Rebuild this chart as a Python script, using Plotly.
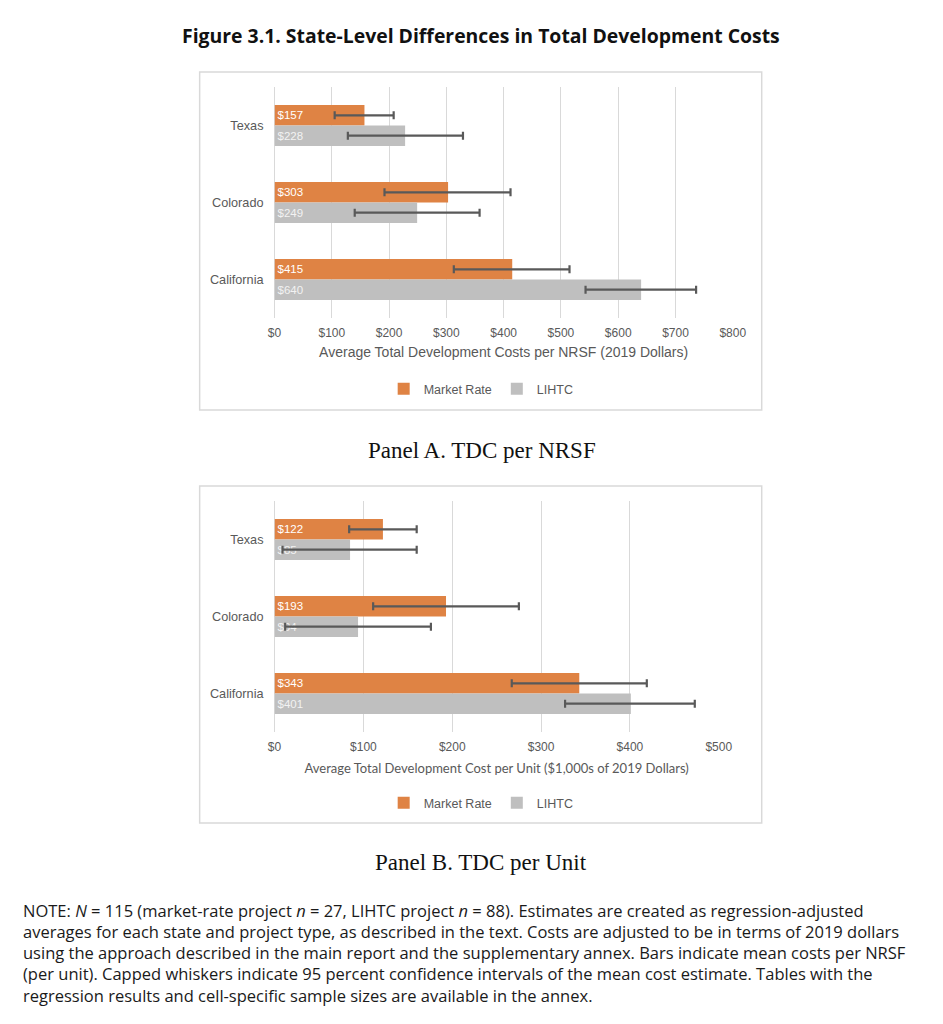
import plotly.graph_objects as go

OFF = 8  # default page body margin
FW, FH = 927, 1008
# empirical horizontal correction measured from earlier renders
SX, BX = 0.979, 6.2

states = ["Texas", "Colorado", "California"]

# Panel A: TDC per NRSF (2019 dollars)
a_market = [157, 303, 415]
a_market_lo = [105, 192, 313]
a_market_hi = [208, 412, 515]
a_lihtc = [228, 249, 640]
a_lihtc_lo = [128, 140, 543]
a_lihtc_hi = [329, 358, 736]
a_ticks = [0, 100, 200, 300, 400, 500, 600, 700, 800]
a_ticklabels = ["$0", "$100", "$200", "$300", "$400", "$500", "$600", "$700", "$800"]

# Panel B: TDC per unit ($1,000s of 2019 dollars)
b_market = [122, 193, 343]
b_market_lo = [84, 111, 267]
b_market_hi = [160, 275, 419]
b_lihtc = [85, 94, 401]
b_lihtc_lo = [9, 12, 327]
b_lihtc_hi = [160, 176, 473]
b_ticks = [0, 100, 200, 300, 400, 500]
b_ticklabels = ["$0", "$100", "$200", "$300", "$400", "$500"]

ORANGE = "#DF8344"
GRAY = "#BFBFBF"
GRID = "#D9D9D9"
TXT = "#595959"
ERR = "#595959"
ARIAL = "Liberation Sans, Arial, sans-serif"


def px(x):
    xp = (x - BX) / SX
    return (xp - OFF) / FW


def py(y):
    return 1 - (y - OFF) / FH


def err(vals, lo, hi):
    return dict(type="data", symmetric=False,
                array=[h - v for v, h in zip(vals, hi)],
                arrayminus=[v - l for v, l in zip(vals, lo)],
                color=ERR, thickness=2.2, width=4)


fig = go.Figure()

panels = [
    ("x", "y", "legend", a_market, a_market_lo, a_market_hi, a_lihtc, a_lihtc_lo, a_lihtc_hi),
    ("x2", "y2", "legend2", b_market, b_market_lo, b_market_hi, b_lihtc, b_lihtc_lo, b_lihtc_hi),
]
for xa, ya, lg, mv, mlo, mhi, lv, llo, lhi in panels:
    fig.add_trace(go.Bar(
        y=states, x=mv, orientation="h", name="Market Rate",
        marker=dict(color=ORANGE, line=dict(width=0)),
        text=["$%d" % v for v in mv], textposition="inside",
        insidetextanchor="start",
        textfont=dict(family=ARIAL, size=11.5, color="white"),
        error_x=err(mv, mlo, mhi), xaxis=xa, yaxis=ya, legend=lg,
        cliponaxis=False,
    ))
    fig.add_trace(go.Bar(
        y=states, x=lv, orientation="h", name="LIHTC",
        marker=dict(color=GRAY, line=dict(width=0)),
        text=["$%d" % v for v in lv], textposition="inside",
        insidetextanchor="start",
        textfont=dict(family=ARIAL, size=11.5, color="#F2F2F2"),
        error_x=err(lv, llo, lhi), xaxis=xa, yaxis=ya, legend=lg,
        cliponaxis=False,
    ))

common_x = dict(showgrid=True, gridcolor=GRID, gridwidth=1, zeroline=True,
                zerolinecolor=GRID, zerolinewidth=1, showline=False, ticks="",
                tickfont=dict(family=ARIAL, size=12, color=TXT),
                ticklabelstandoff=6, fixedrange=True, tickmode="array")
common_y = dict(autorange=False, range=[2.5, -0.5], showgrid=False, zeroline=False,
                showline=False, ticks="", ticklabelstandoff=10,
                tickfont=dict(family=ARIAL, size=12.7, color=TXT),
                categoryorder="array", categoryarray=states)

fig.update_layout(
    xaxis=dict(common_x, domain=[px(274), px(733)], range=[0, 800],
               tickvals=a_ticks, ticktext=a_ticklabels, anchor="y",
               title=dict(text="Average Total Development Costs per NRSF (2019 Dollars)",
                          font=dict(family=ARIAL, size=14, color=TXT), standoff=8)),
    yaxis=dict(common_y, domain=[py(318), py(87)], anchor="x"),
    xaxis2=dict(common_x, domain=[px(274), px(719)], range=[0, 500],
                tickvals=b_ticks, ticktext=b_ticklabels, anchor="y2",
                title=dict(text="Average Total Development Cost per Unit ($1,000s of 2019 Dollars)",
                           font=dict(family="Lato, sans-serif", size=13, color=TXT), standoff=10)),
    yaxis2=dict(common_y, domain=[py(732), py(501)], anchor="x2"),
    barmode="group", bargap=0.47, bargroupgap=0,
    width=FW, height=FH, margin=dict(l=0, r=0, t=0, b=0),
    paper_bgcolor="white", plot_bgcolor="white",
    showlegend=True,
    legend=dict(orientation="h", x=px(481), y=py(389), xanchor="center", yanchor="middle",
                font=dict(family=ARIAL, size=12.5, color=TXT), itemwidth=30,
                traceorder="normal", bgcolor="rgba(0,0,0,0)"),
    legend2=dict(orientation="h", x=px(481), y=py(803), xanchor="center", yanchor="middle",
                 font=dict(family=ARIAL, size=12.5, color=TXT), itemwidth=30,
                 traceorder="normal", bgcolor="rgba(0,0,0,0)"),
)

# panel frames
for y0, y1 in [(72, 410), (486, 823)]:
    fig.add_shape(type="rect", xref="paper", yref="paper",
                  x0=px(199), x1=px(762), y0=py(y1), y1=py(y0),
                  line=dict(color=GRID, width=1.5), fillcolor="rgba(0,0,0,0)", layer="below")

# titles
fig.add_annotation(text="<b>Figure 3.1. State-Level Differences in Total Development Costs</b>",
                   xref="paper", yref="paper", x=px(481), y=py(35), showarrow=False,
                   xanchor="center", yanchor="middle",
                   font=dict(family="Open Sans, sans-serif", size=19.4, color="#111111"))
fig.add_annotation(text="Panel A. TDC per NRSF", xref="paper", yref="paper",
                   x=px(482), y=py(450), showarrow=False, xanchor="center", yanchor="middle",
                   font=dict(family="Liberation Serif, serif", size=23, color="#111111"))
fig.add_annotation(text="Panel B. TDC per Unit", xref="paper", yref="paper",
                   x=px(481), y=py(862), showarrow=False, xanchor="center", yanchor="middle",
                   font=dict(family="Liberation Serif, serif", size=23, color="#111111"))

note_lines = [
    "NOTE: <i>N</i> = 115 (market-rate project <i>n</i> = 27, LIHTC project <i>n</i> = 88). Estimates are created as regression-adjusted",
    "averages for each state and project type, as described in the text. Costs are adjusted to be in terms of 2019 dollars",
    "using the approach described in the main report and the supplementary annex. Bars indicate mean costs per NRSF",
    "(per unit). Capped whiskers indicate 95 percent confidence intervals of the mean cost estimate. Tables with the",
    "regression results and cell-specific sample sizes are available in the annex.",
]
for i, line in enumerate(note_lines):
    fig.add_annotation(text=line, xref="paper", yref="paper", x=px(20), y=py(910 + i * 21.3),
                       showarrow=False, xanchor="left", yanchor="middle", align="left",
                       font=dict(family="Open Sans, sans-serif", size=16.5, color="#1a1a1a"))

fig.write_html("out.html")
